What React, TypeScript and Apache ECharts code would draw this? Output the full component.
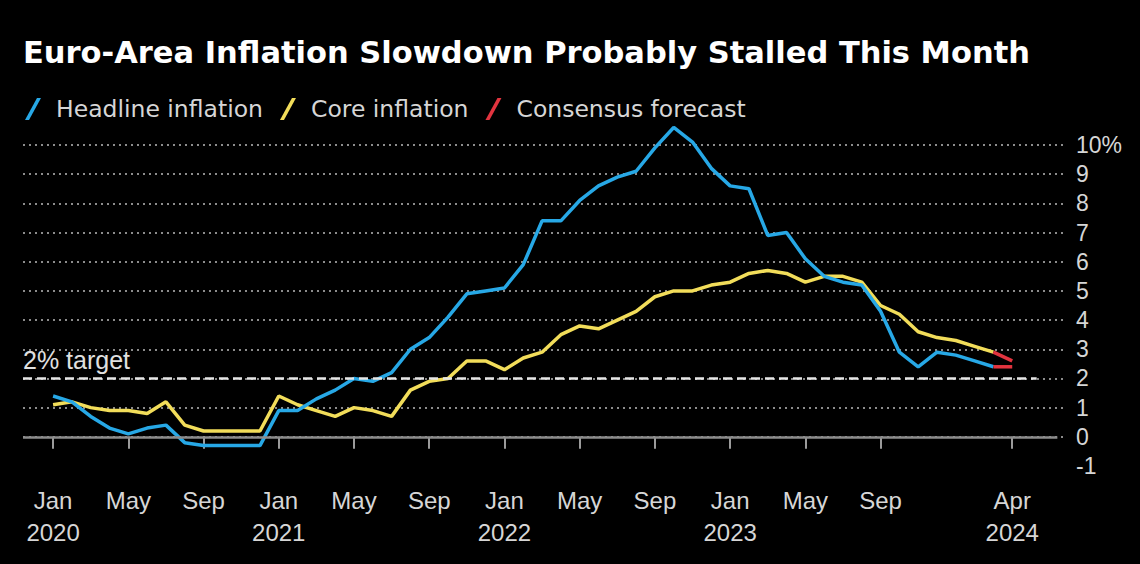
import React, { useEffect, useRef } from "react";
import * as echarts from "echarts";

const MONTHS = ["Jan", "Feb", "Mar", "Apr", "May", "Jun", "Jul", "Aug", "Sep", "Oct", "Nov", "Dec"];
const START_YEAR = 2020;

// Monthly, Jan 2020 .. Mar 2024 (% y/y)
const headline = [
  1.4, 1.2, 0.7, 0.3, 0.1, 0.3, 0.4, -0.2, -0.3, -0.3, -0.3, -0.3,
  0.9, 0.9, 1.3, 1.6, 2.0, 1.9, 2.2, 3.0, 3.4, 4.1, 4.9, 5.0,
  5.1, 5.9, 7.4, 7.4, 8.1, 8.6, 8.9, 9.1, 9.9, 10.6, 10.1, 9.2,
  8.6, 8.5, 6.9, 7.0, 6.1, 5.5, 5.3, 5.2, 4.3, 2.9, 2.4, 2.9,
  2.8, 2.6, 2.4,
];
const core = [
  1.1, 1.2, 1.0, 0.9, 0.9, 0.8, 1.2, 0.4, 0.2, 0.2, 0.2, 0.2,
  1.4, 1.1, 0.9, 0.7, 1.0, 0.9, 0.7, 1.6, 1.9, 2.0, 2.6, 2.6,
  2.3, 2.7, 2.9, 3.5, 3.8, 3.7, 4.0, 4.3, 4.8, 5.0, 5.0, 5.2,
  5.3, 5.6, 5.7, 5.6, 5.3, 5.5, 5.5, 5.3, 4.5, 4.2, 3.6, 3.4,
  3.3, 3.1, 2.9,
];
// Consensus forecast for Apr 2024
const headlineForecast = 2.4;
const coreForecast = 2.6;

const xTickValues = [0, 4, 8, 12, 16, 20, 24, 28, 32, 36, 40, 44, 51];
const yTicks = [-1, 0, 1, 2, 3, 4, 5, 6, 7, 8, 9, 10];
const TARGET = 2;

const BLUE = "#27a8e6";
const YELLOW = "#f2dd5a";
const RED = "#e2343f";
const FONT = "'Liberation Sans', Arial, sans-serif";
const TITLE_FONT = "'DejaVu Sans', Verdana, sans-serif";

const toPairs = (arr: number[]) => arr.map((v, i) => [i, v]);

export default function App() {
  const ref = useRef<HTMLDivElement>(null);
  useEffect(() => {
    if (!ref.current) return;
    const chart = echarts.init(ref.current, null, { renderer: "svg" });
    const lastIdx = headline.length - 1;
    const legendIcon = "path://M0,22 L4,22 L16,0 L12,0 Z";
    chart.setOption({
      animation: false,
      backgroundColor: "#000",
      title: {
        text: "Euro-Area Inflation Slowdown Probably Stalled This Month",
        left: 23,
        top: 37,
        padding: 0,
        textStyle: { color: "#fff", fontSize: 30.5, fontWeight: "bold", fontFamily: TITLE_FONT },
      },
      legend: {
        left: 25,
        top: 97,
        padding: 0,
        itemWidth: 18,
        itemHeight: 22,
        itemGap: 17,
        icon: legendIcon,
        data: ["Headline inflation", "Core inflation", "Consensus forecast"],
        textStyle: { color: "#d6d6d6", fontSize: 23.5, fontFamily: TITLE_FONT, padding: [0, 0, 0, 9] },
      },
      grid: { left: 23, right: 77, top: 145, bottom: 98, containLabel: false },
      xAxis: {
        type: "value",
        min: -1.6,
        max: 53.7,
        axisLine: { show: false },
        splitLine: { show: false },
        axisTick: {
          show: true,
          customValues: xTickValues,
          length: 12,
          lineStyle: { color: "#cfcfcf", width: 1.5 },
        },
        axisLabel: {
          customValues: xTickValues,
          margin: 18,
          color: "#d6d6d6",
          fontSize: 24,
          lineHeight: 32,
          fontFamily: FONT,
          formatter: (v: number) => {
            const m = ((v % 12) + 12) % 12;
            const y = START_YEAR + Math.floor(v / 12);
            return m === 0 || v === 51 ? `${MONTHS[m]}\n${y}` : MONTHS[m];
          },
        },
      },
      yAxis: {
        type: "value",
        position: "right",
        min: yTicks[0],
        max: yTicks[yTicks.length - 1],
        interval: 1,
        axisLine: { show: false },
        axisTick: { show: false },
        axisLabel: {
          margin: 13,
          color: "#d6d6d6",
          fontSize: 23,
          fontFamily: FONT,
          formatter: (v: number) => (v === 10 ? "10%" : `${v}`),
        },
        splitLine: {
          show: true,
          lineStyle: {
            color: yTicks.map((t) => (t === -1 ? "rgba(0,0,0,0)" : "#8c8c8c")),
            type: [2, 4],
            width: 2,
          },
        },
      },
      series: [
        {
          name: "Headline inflation",
          type: "line",
          data: toPairs(headline),
          showSymbol: false,
          clip: false,
          lineStyle: { color: BLUE, width: 3.5 },
          itemStyle: { color: BLUE },
          z: 4,
          markLine: {
            silent: true,
            symbol: "none",
            data: [
              [
                { coord: [-1.6, 0] },
                { coord: [53.4, 0] },
              ],
            ],
            lineStyle: { color: "#8c8c8c", type: "solid", width: 2.5 },
            label: { show: false },
          },
        },
        {
          name: "Core inflation",
          type: "line",
          data: toPairs(core),
          showSymbol: false,
          clip: false,
          lineStyle: { color: YELLOW, width: 3.5 },
          itemStyle: { color: YELLOW },
          z: 3,
          markLine: {
            silent: true,
            symbol: "none",
            data: [
              [
                { coord: [-1.6, TARGET] },
                { coord: [52.3, TARGET] },
              ],
            ],
            lineStyle: { color: "#e6e6e6", type: [9, 5], width: 2.5 },
            label: {
              show: true,
              formatter: "2% target",
              position: "insideStartTop",
              distance: [0, 6],
              color: "#e0e0e0",
              fontSize: 25,
              fontFamily: FONT,
            },
          },
        },
        {
          name: "Consensus forecast",
          type: "line",
          data: [[lastIdx, headline[lastIdx]], [lastIdx + 1, headlineForecast]],
          showSymbol: false,
          clip: false,
          lineStyle: { color: RED, width: 3.5 },
          itemStyle: { color: RED },
          z: 5,
        },
        {
          name: "Consensus forecast",
          type: "line",
          data: [[lastIdx, core[lastIdx]], [lastIdx + 1, coreForecast]],
          showSymbol: false,
          clip: false,
          lineStyle: { color: RED, width: 3.5 },
          itemStyle: { color: RED },
          z: 5,
        },
      ],
    });
    return () => chart.dispose();
  }, []);
  return (
    <div
      ref={ref}
      style={{ position: "fixed", left: 0, top: 0, width: 1140, height: 564 }}
    />
  );
}
